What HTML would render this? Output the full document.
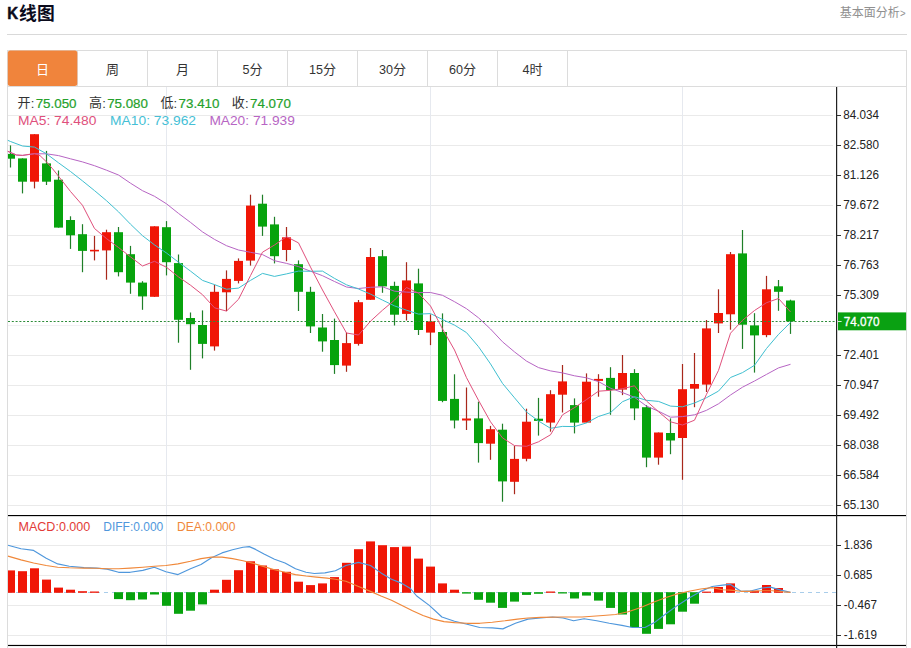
<!DOCTYPE html>
<html><head><meta charset="utf-8"><title>K chart</title>
<style>html,body{margin:0;padding:0;background:#fff;}body{width:911px;height:648px;overflow:hidden;font-family:"Liberation Sans",sans-serif;}svg{display:block}</style>
</head><body>
<svg width="911" height="648" viewBox="0 0 911 648" font-family="'Liberation Sans', sans-serif">
<rect width="911" height="648" fill="#fff"/>
<text x="7.2" y="19.3" font-size="17.4" fill="#0b0b1c" textLength="10.9" lengthAdjust="spacingAndGlyphs" font-weight="bold" stroke="#0b0b1c" stroke-width="0.5">K</text>
<text x="19.1" y="20.4" font-size="17.8" fill="#0b0b1c" font-weight="bold" font-family="'Liberation Sans', 'Noto Sans CJK SC', sans-serif">线图</text>
<text x="839.7" y="17.2" font-size="12" fill="#909090" font-family="'Liberation Sans', 'Noto Sans CJK SC', sans-serif">基本面分析</text>
<text x="900" y="16.8" font-size="11" fill="#909090" textLength="5.6" lengthAdjust="spacingAndGlyphs">&gt;</text>
<rect x="7" y="34" width="900" height="1" fill="#d9d9d9"/>
<rect x="7" y="50" width="900" height="1" fill="#dcdcdc"/>
<rect x="7" y="50" width="1" height="598" fill="#dcdcdc"/>
<rect x="906" y="50" width="1" height="598" fill="#dcdcdc"/>
<rect x="8" y="86" width="898" height="1" fill="#dcdcdc"/>
<rect x="77" y="51" width="1" height="35" fill="#dcdcdc"/>
<rect x="147" y="51" width="1" height="35" fill="#dcdcdc"/>
<rect x="217" y="51" width="1" height="35" fill="#dcdcdc"/>
<rect x="287" y="51" width="1" height="35" fill="#dcdcdc"/>
<rect x="357" y="51" width="1" height="35" fill="#dcdcdc"/>
<rect x="427" y="51" width="1" height="35" fill="#dcdcdc"/>
<rect x="497" y="51" width="1" height="35" fill="#dcdcdc"/>
<rect x="567" y="51" width="1" height="35" fill="#dcdcdc"/>
<rect x="7.8" y="50.4" width="69.5" height="35.5" rx="2.5" ry="2.5" fill="#f0843c"/>
<text x="36" y="73.6" font-size="13" fill="#fff" font-family="'Liberation Sans', 'Noto Sans CJK SC', sans-serif">日</text>
<text x="106" y="73.6" font-size="13" fill="#333" font-family="'Liberation Sans', 'Noto Sans CJK SC', sans-serif">周</text>
<text x="176" y="73.6" font-size="13" fill="#333" font-family="'Liberation Sans', 'Noto Sans CJK SC', sans-serif">月</text>
<text x="242.5" y="74.2" font-size="13" fill="#333" textLength="7.0" lengthAdjust="spacingAndGlyphs">5</text>
<text x="249.5" y="73.6" font-size="13" fill="#333" font-family="'Liberation Sans', 'Noto Sans CJK SC', sans-serif">分</text>
<text x="309.0" y="74.2" font-size="13" fill="#333" textLength="14.0" lengthAdjust="spacingAndGlyphs">15</text>
<text x="323" y="73.6" font-size="13" fill="#333" font-family="'Liberation Sans', 'Noto Sans CJK SC', sans-serif">分</text>
<text x="379.0" y="74.2" font-size="13" fill="#333" textLength="14.0" lengthAdjust="spacingAndGlyphs">30</text>
<text x="393" y="73.6" font-size="13" fill="#333" font-family="'Liberation Sans', 'Noto Sans CJK SC', sans-serif">分</text>
<text x="449.0" y="74.2" font-size="13" fill="#333" textLength="14.0" lengthAdjust="spacingAndGlyphs">60</text>
<text x="463" y="73.6" font-size="13" fill="#333" font-family="'Liberation Sans', 'Noto Sans CJK SC', sans-serif">分</text>
<text x="522.5" y="74.2" font-size="13" fill="#333" textLength="7.0" lengthAdjust="spacingAndGlyphs">4</text>
<text x="529.5" y="73.6" font-size="13" fill="#333" font-family="'Liberation Sans', 'Noto Sans CJK SC', sans-serif">时</text>
<rect x="8" y="115" width="825" height="1" fill="#eaeaea"/>
<rect x="8" y="145" width="825" height="1" fill="#eaeaea"/>
<rect x="8" y="175" width="825" height="1" fill="#eaeaea"/>
<rect x="8" y="205" width="825" height="1" fill="#eaeaea"/>
<rect x="8" y="235" width="825" height="1" fill="#eaeaea"/>
<rect x="8" y="265" width="825" height="1" fill="#eaeaea"/>
<rect x="8" y="295" width="825" height="1" fill="#eaeaea"/>
<rect x="8" y="325" width="825" height="1" fill="#f1f0f3"/>
<rect x="8" y="355" width="825" height="1" fill="#eaeaea"/>
<rect x="8" y="385" width="825" height="1" fill="#eaeaea"/>
<rect x="8" y="415" width="825" height="1" fill="#eaeaea"/>
<rect x="8" y="445" width="825" height="1" fill="#eaeaea"/>
<rect x="8" y="475" width="825" height="1" fill="#eaeaea"/>
<rect x="8" y="505" width="825" height="1" fill="#eaeaea"/>
<rect x="166" y="87" width="1" height="558" fill="#e6e9ef"/>
<rect x="430" y="87" width="1" height="558" fill="#e6e9ef"/>
<rect x="682" y="87" width="1" height="558" fill="#e6e9ef"/>
<rect x="8" y="545" width="825" height="1" fill="#eaeaea"/>
<rect x="8" y="575" width="825" height="1" fill="#eaeaea"/>
<rect x="8" y="605" width="825" height="1" fill="#eaeaea"/>
<rect x="8" y="635" width="825" height="1" fill="#eaeaea"/>
<rect x="9.9" y="145.4" width="1.2" height="22.1" fill="#1f7f28"/>
<rect x="8.0" y="153.9" width="7.0" height="4.8" fill="#07a30d"/>
<rect x="21.9" y="158.4" width="1.2" height="35.0" fill="#1f7f28"/>
<rect x="18.0" y="158.4" width="9.0" height="23.3" fill="#07a30d"/>
<rect x="33.9" y="134.2" width="1.2" height="54.2" fill="#a8281c"/>
<rect x="30.0" y="134.2" width="9.0" height="47.5" fill="#f01606"/>
<rect x="45.9" y="150.9" width="1.2" height="34.1" fill="#1f7f28"/>
<rect x="42.0" y="163.4" width="9.0" height="18.3" fill="#07a30d"/>
<rect x="57.9" y="170.5" width="1.2" height="57.1" fill="#1f7f28"/>
<rect x="54.0" y="179.7" width="9.0" height="47.9" fill="#07a30d"/>
<rect x="69.9" y="216.3" width="1.2" height="32.6" fill="#1f7f28"/>
<rect x="66.0" y="220.0" width="9.0" height="15.3" fill="#07a30d"/>
<rect x="81.9" y="224.2" width="1.2" height="48.0" fill="#1f7f28"/>
<rect x="78.0" y="234.2" width="9.0" height="16.7" fill="#07a30d"/>
<rect x="93.9" y="235.9" width="1.2" height="24.5" fill="#a8281c"/>
<rect x="90.0" y="249.8" width="9.0" height="1.6" fill="#f01606"/>
<rect x="105.9" y="229.7" width="1.2" height="50.0" fill="#a8281c"/>
<rect x="102.0" y="232.2" width="9.0" height="18.2" fill="#f01606"/>
<rect x="117.9" y="227.0" width="1.2" height="49.4" fill="#1f7f28"/>
<rect x="114.0" y="232.2" width="9.0" height="40.0" fill="#07a30d"/>
<rect x="129.9" y="245.9" width="1.2" height="47.9" fill="#1f7f28"/>
<rect x="126.0" y="254.2" width="9.0" height="28.4" fill="#07a30d"/>
<rect x="141.9" y="281.2" width="1.2" height="28.6" fill="#1f7f28"/>
<rect x="138.0" y="282.6" width="9.0" height="13.8" fill="#07a30d"/>
<rect x="153.9" y="226.3" width="1.2" height="70.5" fill="#a8281c"/>
<rect x="150.0" y="226.3" width="9.0" height="70.5" fill="#f01606"/>
<rect x="165.9" y="221.1" width="1.2" height="54.3" fill="#1f7f28"/>
<rect x="162.0" y="227.2" width="9.0" height="35.0" fill="#07a30d"/>
<rect x="177.9" y="254.5" width="1.2" height="88.2" fill="#1f7f28"/>
<rect x="174.0" y="263.1" width="9.0" height="56.7" fill="#07a30d"/>
<rect x="189.9" y="312.5" width="1.2" height="57.3" fill="#1f7f28"/>
<rect x="186.0" y="318.0" width="9.0" height="6.2" fill="#07a30d"/>
<rect x="201.9" y="310.4" width="1.2" height="48.0" fill="#1f7f28"/>
<rect x="198.0" y="325.0" width="9.0" height="18.9" fill="#07a30d"/>
<rect x="213.9" y="284.7" width="1.2" height="65.9" fill="#a8281c"/>
<rect x="210.0" y="291.8" width="9.0" height="54.6" fill="#f01606"/>
<rect x="225.9" y="270.4" width="1.2" height="40.6" fill="#a8281c"/>
<rect x="222.0" y="278.9" width="9.0" height="13.4" fill="#f01606"/>
<rect x="237.9" y="258.4" width="1.2" height="25.0" fill="#a8281c"/>
<rect x="234.0" y="260.9" width="9.0" height="20.0" fill="#f01606"/>
<rect x="249.9" y="194.7" width="1.2" height="70.9" fill="#a8281c"/>
<rect x="246.0" y="205.6" width="9.0" height="55.0" fill="#f01606"/>
<rect x="261.9" y="194.7" width="1.2" height="41.2" fill="#1f7f28"/>
<rect x="258.0" y="203.7" width="9.0" height="22.9" fill="#07a30d"/>
<rect x="273.9" y="216.8" width="1.2" height="46.6" fill="#1f7f28"/>
<rect x="270.0" y="224.4" width="9.0" height="31.8" fill="#07a30d"/>
<rect x="285.9" y="227.0" width="1.2" height="34.2" fill="#a8281c"/>
<rect x="282.0" y="237.3" width="9.0" height="12.7" fill="#f01606"/>
<rect x="297.9" y="260.4" width="1.2" height="50.6" fill="#1f7f28"/>
<rect x="294.0" y="264.2" width="9.0" height="27.6" fill="#07a30d"/>
<rect x="309.9" y="286.8" width="1.2" height="46.2" fill="#1f7f28"/>
<rect x="306.0" y="291.8" width="9.0" height="34.6" fill="#07a30d"/>
<rect x="321.9" y="314.0" width="1.2" height="37.7" fill="#1f7f28"/>
<rect x="318.0" y="327.5" width="9.0" height="13.9" fill="#07a30d"/>
<rect x="333.9" y="318.6" width="1.2" height="55.3" fill="#1f7f28"/>
<rect x="330.0" y="340.0" width="9.0" height="25.1" fill="#07a30d"/>
<rect x="345.9" y="332.6" width="1.2" height="39.2" fill="#a8281c"/>
<rect x="342.0" y="343.1" width="9.0" height="22.5" fill="#f01606"/>
<rect x="357.9" y="300.0" width="1.2" height="45.6" fill="#a8281c"/>
<rect x="354.0" y="302.2" width="9.0" height="41.7" fill="#f01606"/>
<rect x="369.9" y="248.0" width="1.2" height="51.8" fill="#a8281c"/>
<rect x="366.0" y="257.0" width="9.0" height="42.8" fill="#f01606"/>
<rect x="381.9" y="250.0" width="1.2" height="42.8" fill="#1f7f28"/>
<rect x="378.0" y="256.2" width="9.0" height="30.2" fill="#07a30d"/>
<rect x="393.9" y="281.7" width="1.2" height="43.8" fill="#1f7f28"/>
<rect x="390.0" y="285.9" width="9.0" height="28.8" fill="#07a30d"/>
<rect x="405.9" y="262.2" width="1.2" height="58.3" fill="#a8281c"/>
<rect x="402.0" y="280.4" width="9.0" height="33.5" fill="#f01606"/>
<rect x="417.9" y="268.7" width="1.2" height="66.3" fill="#1f7f28"/>
<rect x="414.0" y="283.4" width="9.0" height="46.6" fill="#07a30d"/>
<rect x="429.9" y="314.4" width="1.2" height="30.7" fill="#a8281c"/>
<rect x="426.0" y="321.4" width="9.0" height="11.2" fill="#f01606"/>
<rect x="441.9" y="313.4" width="1.2" height="88.8" fill="#1f7f28"/>
<rect x="438.0" y="332.0" width="9.0" height="68.9" fill="#07a30d"/>
<rect x="453.9" y="374.3" width="1.2" height="54.1" fill="#1f7f28"/>
<rect x="450.0" y="398.9" width="9.0" height="21.6" fill="#07a30d"/>
<rect x="465.9" y="387.5" width="1.2" height="42.5" fill="#a8281c"/>
<rect x="462.0" y="418.5" width="9.0" height="2.0" fill="#f01606"/>
<rect x="477.9" y="401.7" width="1.2" height="60.9" fill="#1f7f28"/>
<rect x="474.0" y="418.4" width="9.0" height="24.7" fill="#07a30d"/>
<rect x="489.9" y="425.9" width="1.2" height="33.9" fill="#a8281c"/>
<rect x="486.0" y="429.2" width="9.0" height="14.5" fill="#f01606"/>
<rect x="501.9" y="423.7" width="1.2" height="78.0" fill="#1f7f28"/>
<rect x="498.0" y="429.7" width="9.0" height="51.7" fill="#07a30d"/>
<rect x="513.9" y="445.9" width="1.2" height="48.3" fill="#a8281c"/>
<rect x="510.0" y="458.9" width="9.0" height="22.9" fill="#f01606"/>
<rect x="525.9" y="408.7" width="1.2" height="52.6" fill="#a8281c"/>
<rect x="522.0" y="421.7" width="9.0" height="37.1" fill="#f01606"/>
<rect x="537.9" y="397.9" width="1.2" height="37.7" fill="#1f7f28"/>
<rect x="534.0" y="418.7" width="9.0" height="2.2" fill="#07a30d"/>
<rect x="549.9" y="390.2" width="1.2" height="41.5" fill="#a8281c"/>
<rect x="546.0" y="394.2" width="9.0" height="28.4" fill="#f01606"/>
<rect x="561.9" y="365.0" width="1.2" height="47.5" fill="#a8281c"/>
<rect x="558.0" y="381.4" width="9.0" height="13.3" fill="#f01606"/>
<rect x="573.9" y="398.4" width="1.2" height="35.0" fill="#1f7f28"/>
<rect x="570.0" y="405.1" width="9.0" height="17.5" fill="#07a30d"/>
<rect x="585.9" y="373.4" width="1.2" height="49.2" fill="#a8281c"/>
<rect x="582.0" y="381.7" width="9.0" height="40.9" fill="#f01606"/>
<rect x="597.9" y="374.2" width="1.2" height="22.5" fill="#a8281c"/>
<rect x="594.0" y="378.9" width="9.0" height="2.0" fill="#f01606"/>
<rect x="609.9" y="367.2" width="1.2" height="47.6" fill="#1f7f28"/>
<rect x="606.0" y="377.9" width="9.0" height="12.2" fill="#07a30d"/>
<rect x="621.9" y="355.0" width="1.2" height="40.1" fill="#a8281c"/>
<rect x="618.0" y="373.0" width="9.0" height="16.6" fill="#f01606"/>
<rect x="633.9" y="369.2" width="1.2" height="50.9" fill="#1f7f28"/>
<rect x="630.0" y="373.0" width="9.0" height="35.4" fill="#07a30d"/>
<rect x="645.9" y="405.1" width="1.2" height="62.1" fill="#1f7f28"/>
<rect x="642.0" y="407.2" width="9.0" height="50.4" fill="#07a30d"/>
<rect x="657.9" y="432.5" width="1.2" height="32.2" fill="#a8281c"/>
<rect x="654.0" y="432.5" width="9.0" height="25.1" fill="#f01606"/>
<rect x="669.9" y="418.4" width="1.2" height="35.8" fill="#1f7f28"/>
<rect x="666.0" y="433.0" width="9.0" height="7.5" fill="#07a30d"/>
<rect x="681.9" y="364.0" width="1.2" height="115.8" fill="#a8281c"/>
<rect x="678.0" y="389.2" width="9.0" height="48.8" fill="#f01606"/>
<rect x="693.9" y="353.0" width="1.2" height="54.2" fill="#a8281c"/>
<rect x="690.0" y="384.0" width="9.0" height="4.7" fill="#f01606"/>
<rect x="705.9" y="320.0" width="1.2" height="72.0" fill="#a8281c"/>
<rect x="702.0" y="328.4" width="9.0" height="56.2" fill="#f01606"/>
<rect x="717.9" y="289.3" width="1.2" height="43.7" fill="#a8281c"/>
<rect x="714.0" y="313.0" width="9.0" height="10.4" fill="#f01606"/>
<rect x="729.9" y="252.0" width="1.2" height="77.7" fill="#a8281c"/>
<rect x="726.0" y="254.2" width="9.0" height="60.1" fill="#f01606"/>
<rect x="741.9" y="230.0" width="1.2" height="118.9" fill="#1f7f28"/>
<rect x="738.0" y="253.4" width="9.0" height="71.3" fill="#07a30d"/>
<rect x="753.9" y="313.2" width="1.2" height="59.4" fill="#1f7f28"/>
<rect x="750.0" y="325.4" width="9.0" height="10.0" fill="#07a30d"/>
<rect x="765.9" y="275.9" width="1.2" height="61.3" fill="#a8281c"/>
<rect x="762.0" y="289.3" width="9.0" height="45.8" fill="#f01606"/>
<rect x="777.9" y="280.0" width="1.2" height="30.8" fill="#1f7f28"/>
<rect x="774.0" y="286.3" width="9.0" height="5.5" fill="#07a30d"/>
<rect x="789.9" y="299.7" width="1.2" height="34.2" fill="#1f7f28"/>
<rect x="786.0" y="300.5" width="9.0" height="20.9" fill="#07a30d"/>
<line x1="8" y1="321.5" x2="837" y2="321.5" stroke="#2c8c38" stroke-width="1.1" stroke-dasharray="2,1.8"/>
<polyline points="7.8,151.3 16.3,155.0 22.5,155.4 34.5,153.8 46.5,153.8 58.5,155.6 70.5,158.8 82.5,161.9 94.5,165.7 106.5,170.2 118.5,175.0 130.5,183.2 142.5,190.7 154.5,196.3 166.5,203.8 178.5,213.4 190.5,222.4 202.5,231.9 214.5,239.4 226.5,245.7 238.5,250.0 250.5,252.3 262.5,254.6 274.5,260.7 286.5,263.4 298.5,266.6 310.5,271.2 322.5,275.7 334.5,281.5 346.5,287.0 358.5,288.5 370.5,287.3 382.5,286.8 394.5,291.2 406.5,292.1 418.5,292.6 430.5,292.5 442.5,295.3 454.5,301.7 466.5,308.7 478.5,317.8 490.5,329.0 502.5,341.8 514.5,351.9 526.5,361.1 538.5,367.6 550.5,370.9 562.5,372.9 574.5,375.8 586.5,377.8 598.5,381.6 610.5,388.2 622.5,392.6 634.5,397.3 646.5,406.1 658.5,411.2 670.5,417.2 682.5,416.6 694.5,414.8 706.5,410.3 718.5,403.8 730.5,395.0 742.5,387.2 754.5,381.0 766.5,374.4 778.5,367.9 790.5,364.3" fill="none" stroke="#b765c4" stroke-width="1.0" stroke-linejoin="round" />
<polyline points="7.8,140.3 10.5,141.5 22.5,146.0 34.5,147.1 46.5,153.8 58.5,162.8 70.5,171.5 82.5,180.9 94.5,190.6 106.5,200.7 118.5,211.8 130.5,224.2 142.5,235.7 154.5,244.9 166.5,253.0 178.5,262.2 190.5,271.1 202.5,280.4 214.5,284.6 226.5,289.2 238.5,288.1 250.5,280.4 262.5,273.4 274.5,276.4 286.5,273.9 298.5,271.1 310.5,271.3 322.5,271.1 334.5,278.4 346.5,284.8 358.5,289.0 370.5,294.1 382.5,300.1 394.5,305.9 406.5,310.2 418.5,314.1 430.5,313.6 442.5,319.5 454.5,325.1 466.5,332.6 478.5,346.7 490.5,363.9 502.5,383.4 514.5,397.8 526.5,412.0 538.5,421.0 550.5,428.3 562.5,426.4 574.5,426.6 586.5,422.9 598.5,416.5 610.5,412.6 622.5,401.7 634.5,396.7 646.5,400.3 658.5,401.4 670.5,406.1 682.5,406.8 694.5,403.0 706.5,397.7 718.5,391.1 730.5,377.5 742.5,372.6 754.5,365.3 766.5,348.5 778.5,334.4 790.5,322.5" fill="none" stroke="#3fbfd0" stroke-width="1.0" stroke-linejoin="round" />
<polyline points="7.8,151.3 10.5,152.5 16.3,155.0 22.5,155.4 34.5,153.5 40.0,155.6 46.5,161.9 52.6,168.8 58.5,176.2 70.5,191.5 82.5,205.3 94.5,228.5 106.5,238.6 118.5,247.5 130.5,256.9 142.5,266.0 154.5,261.3 166.5,267.3 178.5,276.9 190.5,285.2 202.5,294.7 214.5,307.8 226.5,311.1 238.5,299.3 250.5,275.6 262.5,252.2 274.5,245.0 286.5,236.7 298.5,242.9 310.5,267.1 322.5,290.0 334.5,311.8 346.5,333.0 358.5,335.0 370.5,321.2 382.5,310.2 394.5,300.1 406.5,287.5 418.5,293.1 430.5,306.0 442.5,328.9 454.5,350.0 466.5,377.7 478.5,400.3 490.5,421.8 502.5,437.9 514.5,445.6 526.5,446.3 538.5,441.8 550.5,434.8 562.5,414.8 574.5,407.6 586.5,399.6 598.5,391.2 610.5,390.3 622.5,388.7 634.5,385.8 646.5,401.0 658.5,411.7 670.5,421.8 682.5,425.0 694.5,420.2 706.5,394.3 718.5,370.4 730.5,333.2 742.5,320.3 754.5,310.5 766.5,302.7 778.5,298.5 790.5,311.9" fill="none" stroke="#e0507c" stroke-width="1.0" stroke-linejoin="round" />
<text x="17.5" y="107.3" font-size="13" fill="#333" font-family="'Liberation Sans', 'Noto Sans CJK SC', sans-serif">开</text>
<text x="30.7" y="107.6" font-size="13" fill="#333">:</text>
<text x="35.7" y="107.7" font-size="13" fill="#25a12b" textLength="40.8" lengthAdjust="spacingAndGlyphs" stroke="#25a12b" stroke-width="0.2">75.050</text>
<text x="88.95" y="107.3" font-size="13" fill="#333" font-family="'Liberation Sans', 'Noto Sans CJK SC', sans-serif">高</text>
<text x="102.15" y="107.6" font-size="13" fill="#333">:</text>
<text x="107.15" y="107.7" font-size="13" fill="#25a12b" textLength="40.8" lengthAdjust="spacingAndGlyphs" stroke="#25a12b" stroke-width="0.2">75.080</text>
<text x="160.4" y="107.3" font-size="13" fill="#333" font-family="'Liberation Sans', 'Noto Sans CJK SC', sans-serif">低</text>
<text x="173.6" y="107.6" font-size="13" fill="#333">:</text>
<text x="178.6" y="107.7" font-size="13" fill="#25a12b" textLength="40.8" lengthAdjust="spacingAndGlyphs" stroke="#25a12b" stroke-width="0.2">73.410</text>
<text x="231.85" y="107.3" font-size="13" fill="#333" font-family="'Liberation Sans', 'Noto Sans CJK SC', sans-serif">收</text>
<text x="245.05" y="107.6" font-size="13" fill="#333">:</text>
<text x="250.05" y="107.7" font-size="13" fill="#25a12b" textLength="40.8" lengthAdjust="spacingAndGlyphs" stroke="#25a12b" stroke-width="0.2">74.070</text>
<text x="18" y="125.2" font-size="13" fill="#e0507c" textLength="78.4" lengthAdjust="spacingAndGlyphs">MA5: 74.480</text>
<text x="110.1" y="125.2" font-size="13" fill="#45bfd6" textLength="85.9" lengthAdjust="spacingAndGlyphs">MA10: 73.962</text>
<text x="209.4" y="125.2" font-size="13" fill="#b765c4" textLength="85.5" lengthAdjust="spacingAndGlyphs">MA20: 71.939</text>
<line x1="8" y1="592.5" x2="836" y2="592.5" stroke="#a9cdea" stroke-width="1" stroke-dasharray="4,4"/>
<rect x="8.0" y="570.4" width="7.0" height="22.4" fill="#f01606"/>
<rect x="18.0" y="571.2" width="9.0" height="21.6" fill="#f01606"/>
<rect x="30.0" y="568.3" width="9.0" height="24.5" fill="#f01606"/>
<rect x="42.0" y="579.6" width="9.0" height="13.2" fill="#f01606"/>
<rect x="54.0" y="587.6" width="9.0" height="5.2" fill="#f01606"/>
<rect x="66.0" y="589.7" width="9.0" height="3.1" fill="#f01606"/>
<rect x="78.0" y="591.2" width="9.0" height="1.6" fill="#f01606"/>
<rect x="90.0" y="591.5" width="9.0" height="1.3" fill="#f01606"/>
<rect x="114.0" y="592.2" width="9.0" height="6.9" fill="#07a30d"/>
<rect x="126.0" y="592.2" width="9.0" height="8.0" fill="#07a30d"/>
<rect x="138.0" y="592.2" width="9.0" height="7.3" fill="#07a30d"/>
<rect x="150.0" y="592.2" width="9.0" height="2.3" fill="#07a30d"/>
<rect x="162.0" y="592.2" width="9.0" height="13.6" fill="#07a30d"/>
<rect x="174.0" y="592.2" width="9.0" height="21.6" fill="#07a30d"/>
<rect x="186.0" y="592.2" width="9.0" height="18.5" fill="#07a30d"/>
<rect x="198.0" y="592.2" width="9.0" height="12.2" fill="#07a30d"/>
<rect x="210.0" y="589.7" width="9.0" height="3.1" fill="#f01606"/>
<rect x="222.0" y="579.8" width="9.0" height="13.0" fill="#f01606"/>
<rect x="234.0" y="570.2" width="9.0" height="22.6" fill="#f01606"/>
<rect x="246.0" y="561.3" width="9.0" height="31.5" fill="#f01606"/>
<rect x="258.0" y="565.5" width="9.0" height="27.3" fill="#f01606"/>
<rect x="270.0" y="569.3" width="9.0" height="23.5" fill="#f01606"/>
<rect x="282.0" y="571.8" width="9.0" height="21.0" fill="#f01606"/>
<rect x="294.0" y="581.7" width="9.0" height="11.1" fill="#f01606"/>
<rect x="306.0" y="585.1" width="9.0" height="7.7" fill="#f01606"/>
<rect x="318.0" y="583.4" width="9.0" height="9.4" fill="#f01606"/>
<rect x="330.0" y="577.1" width="9.0" height="15.7" fill="#f01606"/>
<rect x="342.0" y="562.8" width="9.0" height="30.0" fill="#f01606"/>
<rect x="354.0" y="549.2" width="9.0" height="43.6" fill="#f01606"/>
<rect x="366.0" y="541.4" width="9.0" height="51.4" fill="#f01606"/>
<rect x="378.0" y="545.2" width="9.0" height="47.6" fill="#f01606"/>
<rect x="390.0" y="547.1" width="9.0" height="45.7" fill="#f01606"/>
<rect x="402.0" y="546.6" width="9.0" height="46.2" fill="#f01606"/>
<rect x="414.0" y="558.6" width="9.0" height="34.2" fill="#f01606"/>
<rect x="426.0" y="566.6" width="9.0" height="26.2" fill="#f01606"/>
<rect x="438.0" y="583.4" width="9.0" height="9.4" fill="#f01606"/>
<rect x="450.0" y="589.7" width="9.0" height="3.1" fill="#f01606"/>
<rect x="462.0" y="592.2" width="9.0" height="1.4" fill="#07a30d"/>
<rect x="474.0" y="592.2" width="9.0" height="7.6" fill="#07a30d"/>
<rect x="486.0" y="592.2" width="9.0" height="10.5" fill="#07a30d"/>
<rect x="498.0" y="592.2" width="9.0" height="15.7" fill="#07a30d"/>
<rect x="510.0" y="592.2" width="9.0" height="9.4" fill="#07a30d"/>
<rect x="522.0" y="592.2" width="9.0" height="2.7" fill="#07a30d"/>
<rect x="534.0" y="592.2" width="9.0" height="1.6" fill="#07a30d"/>
<rect x="546.0" y="591.5" width="9.0" height="1.3" fill="#f01606"/>
<rect x="558.0" y="592.2" width="9.0" height="1.3" fill="#07a30d"/>
<rect x="570.0" y="592.2" width="9.0" height="6.3" fill="#07a30d"/>
<rect x="582.0" y="592.2" width="9.0" height="3.4" fill="#07a30d"/>
<rect x="594.0" y="592.2" width="9.0" height="8.4" fill="#07a30d"/>
<rect x="606.0" y="592.2" width="9.0" height="15.7" fill="#07a30d"/>
<rect x="618.0" y="592.2" width="9.0" height="22.3" fill="#07a30d"/>
<rect x="630.0" y="592.2" width="9.0" height="34.9" fill="#07a30d"/>
<rect x="642.0" y="592.2" width="9.0" height="41.6" fill="#07a30d"/>
<rect x="654.0" y="592.2" width="9.0" height="36.7" fill="#07a30d"/>
<rect x="666.0" y="592.2" width="9.0" height="32.1" fill="#07a30d"/>
<rect x="678.0" y="592.2" width="9.0" height="19.5" fill="#07a30d"/>
<rect x="690.0" y="592.2" width="9.0" height="11.5" fill="#07a30d"/>
<rect x="702.0" y="591.6" width="9.0" height="1.2" fill="#f01606"/>
<rect x="714.0" y="587.0" width="9.0" height="5.8" fill="#f01606"/>
<rect x="726.0" y="583.4" width="9.0" height="9.4" fill="#f01606"/>
<rect x="750.0" y="590.7" width="9.0" height="2.1" fill="#f01606"/>
<rect x="762.0" y="585.0" width="9.0" height="7.8" fill="#f01606"/>
<rect x="774.0" y="588.0" width="9.0" height="4.8" fill="#f01606"/>
<polyline points="8.0,545.2 21.0,548.7 33.6,550.4 46.2,558.2 57.7,563.9 69.3,566.2 84.0,567.6 96.6,568.1 107.1,569.1 118.6,572.3 130.2,572.3 142.8,570.4 154.3,567.2 165.9,571.8 178.0,574.6 190.5,568.7 201.0,564.5 211.5,557.8 222.0,552.9 232.5,549.8 243.0,547.3 249.3,546.6 255.6,549.4 264.0,554.0 274.5,559.2 285.0,563.0 295.5,568.7 306.0,572.3 314.4,573.5 324.9,572.9 335.4,570.8 345.9,565.5 358.5,562.4 370.5,565.5 381.0,572.9 391.5,579.2 402.0,583.4 410.4,588.6 416.7,596.0 429.3,605.4 441.9,617.0 454.5,621.2 467.1,624.3 479.7,627.5 492.3,627.9 502.8,628.9 515.4,623.3 528.0,619.1 540.6,618.0 552.6,617.0 563.1,618.0 573.6,620.8 584.1,618.7 596.7,620.8 609.3,623.3 621.9,625.4 632.4,627.5 645.0,627.5 654.4,622.6 666.0,613.8 677.5,605.4 689.1,598.1 700.6,591.4 712.2,586.5 722.7,585.1 730.5,584.4 741.0,591.3 751.5,590.7 762.0,588.0 770.4,587.1 780.9,590.1 790.5,592.4" fill="none" stroke="#4f97dc" stroke-width="1.15" stroke-linejoin="round" />
<polyline points="8.0,556.1 21.0,559.9 33.6,563.0 46.2,565.5 57.7,567.2 69.3,567.8 84.0,568.1 96.6,568.3 107.1,568.7 118.6,568.7 130.2,568.1 142.8,567.2 154.3,566.2 165.9,565.5 178.0,563.9 190.5,561.3 201.0,558.6 211.5,557.1 222.0,557.1 232.5,558.6 243.0,560.7 253.5,563.4 264.0,566.6 274.5,569.7 285.0,572.3 295.5,574.6 306.0,576.0 316.5,577.1 327.0,578.1 335.4,579.2 345.9,581.3 358.5,586.5 370.5,591.4 381.0,596.0 391.5,600.2 402.0,605.4 412.5,610.7 423.0,615.5 433.5,619.1 444.0,621.6 454.5,622.6 467.1,623.3 479.7,623.3 492.3,622.2 504.9,620.8 517.5,619.1 528.0,618.0 540.6,617.4 561.0,617.0 582.0,617.0 603.0,615.5 615.6,614.5 628.2,611.7 640.8,607.5 653.4,602.3 666.0,597.5 677.5,593.9 689.1,591.2 700.6,589.0 712.2,587.6 722.7,589.7 730.5,590.1 741.0,591.3 751.5,591.3 762.0,590.7 772.5,590.7 783.0,591.8 790.5,592.4" fill="none" stroke="#f0883a" stroke-width="1.15" stroke-linejoin="round" />
<text x="18.5" y="531.3" font-size="13" fill="#e23a36" textLength="71.8" lengthAdjust="spacingAndGlyphs">MACD:0.000</text>
<text x="103.3" y="531.3" font-size="13" fill="#4f97dc" textLength="60" lengthAdjust="spacingAndGlyphs">DIFF:0.000</text>
<text x="177" y="531.3" font-size="13" fill="#f0883a" textLength="58.6" lengthAdjust="spacingAndGlyphs">DEA:0.000</text>
<rect x="8" y="515" width="898" height="1.15" fill="#000"/>
<rect x="8" y="644.9" width="898" height="1.15" fill="#000"/>
<rect x="836" y="87" width="1.2" height="561" fill="#222"/>
<rect x="837" y="115" width="4" height="1" fill="#333"/>
<text x="843.3" y="119.2" font-size="13" fill="#222" textLength="35.7" lengthAdjust="spacingAndGlyphs">84.034</text>
<rect x="837" y="145" width="4" height="1" fill="#333"/>
<text x="843.3" y="149.2" font-size="13" fill="#222" textLength="35.7" lengthAdjust="spacingAndGlyphs">82.580</text>
<rect x="837" y="175" width="4" height="1" fill="#333"/>
<text x="843.3" y="179.2" font-size="13" fill="#222" textLength="35.7" lengthAdjust="spacingAndGlyphs">81.126</text>
<rect x="837" y="205" width="4" height="1" fill="#333"/>
<text x="843.3" y="209.2" font-size="13" fill="#222" textLength="35.7" lengthAdjust="spacingAndGlyphs">79.672</text>
<rect x="837" y="235" width="4" height="1" fill="#333"/>
<text x="843.3" y="239.2" font-size="13" fill="#222" textLength="35.7" lengthAdjust="spacingAndGlyphs">78.217</text>
<rect x="837" y="265" width="4" height="1" fill="#333"/>
<text x="843.3" y="269.2" font-size="13" fill="#222" textLength="35.7" lengthAdjust="spacingAndGlyphs">76.763</text>
<rect x="837" y="295" width="4" height="1" fill="#333"/>
<text x="843.3" y="299.2" font-size="13" fill="#222" textLength="35.7" lengthAdjust="spacingAndGlyphs">75.309</text>
<rect x="837" y="355" width="4" height="1" fill="#333"/>
<text x="843.3" y="359.2" font-size="13" fill="#222" textLength="35.7" lengthAdjust="spacingAndGlyphs">72.401</text>
<rect x="837" y="385" width="4" height="1" fill="#333"/>
<text x="843.3" y="389.2" font-size="13" fill="#222" textLength="35.7" lengthAdjust="spacingAndGlyphs">70.947</text>
<rect x="837" y="415" width="4" height="1" fill="#333"/>
<text x="843.3" y="419.2" font-size="13" fill="#222" textLength="35.7" lengthAdjust="spacingAndGlyphs">69.492</text>
<rect x="837" y="445" width="4" height="1" fill="#333"/>
<text x="843.3" y="449.2" font-size="13" fill="#222" textLength="35.7" lengthAdjust="spacingAndGlyphs">68.038</text>
<rect x="837" y="475" width="4" height="1" fill="#333"/>
<text x="843.3" y="479.2" font-size="13" fill="#222" textLength="35.7" lengthAdjust="spacingAndGlyphs">66.584</text>
<rect x="837" y="505" width="4" height="1" fill="#333"/>
<text x="843.3" y="509.2" font-size="13" fill="#222" textLength="35.7" lengthAdjust="spacingAndGlyphs">65.130</text>
<rect x="837" y="545" width="4" height="1" fill="#333"/>
<text x="843.8" y="549.1" font-size="13" fill="#222" textLength="28.4" lengthAdjust="spacingAndGlyphs">1.836</text>
<rect x="837" y="575" width="4" height="1" fill="#333"/>
<text x="843.8" y="579.1" font-size="13" fill="#222" textLength="28.4" lengthAdjust="spacingAndGlyphs">0.685</text>
<rect x="837" y="605" width="4" height="1" fill="#333"/>
<text x="843.8" y="609.1" font-size="13" fill="#222" textLength="33.1" lengthAdjust="spacingAndGlyphs">-0.467</text>
<rect x="837" y="635" width="4" height="1" fill="#333"/>
<text x="843.8" y="639.1" font-size="13" fill="#222" textLength="33.1" lengthAdjust="spacingAndGlyphs">-1.619</text>
<rect x="838" y="312.4" width="68.1" height="17.9" fill="#0aa112"/>
<rect x="838" y="321" width="3.6" height="1" fill="#d8f0d8"/>
<text x="843.8" y="326.1" font-size="13" fill="#fff" textLength="35.8" lengthAdjust="spacingAndGlyphs" stroke="#fff" stroke-width="0.35">74.070</text>
</svg>
</body></html>
